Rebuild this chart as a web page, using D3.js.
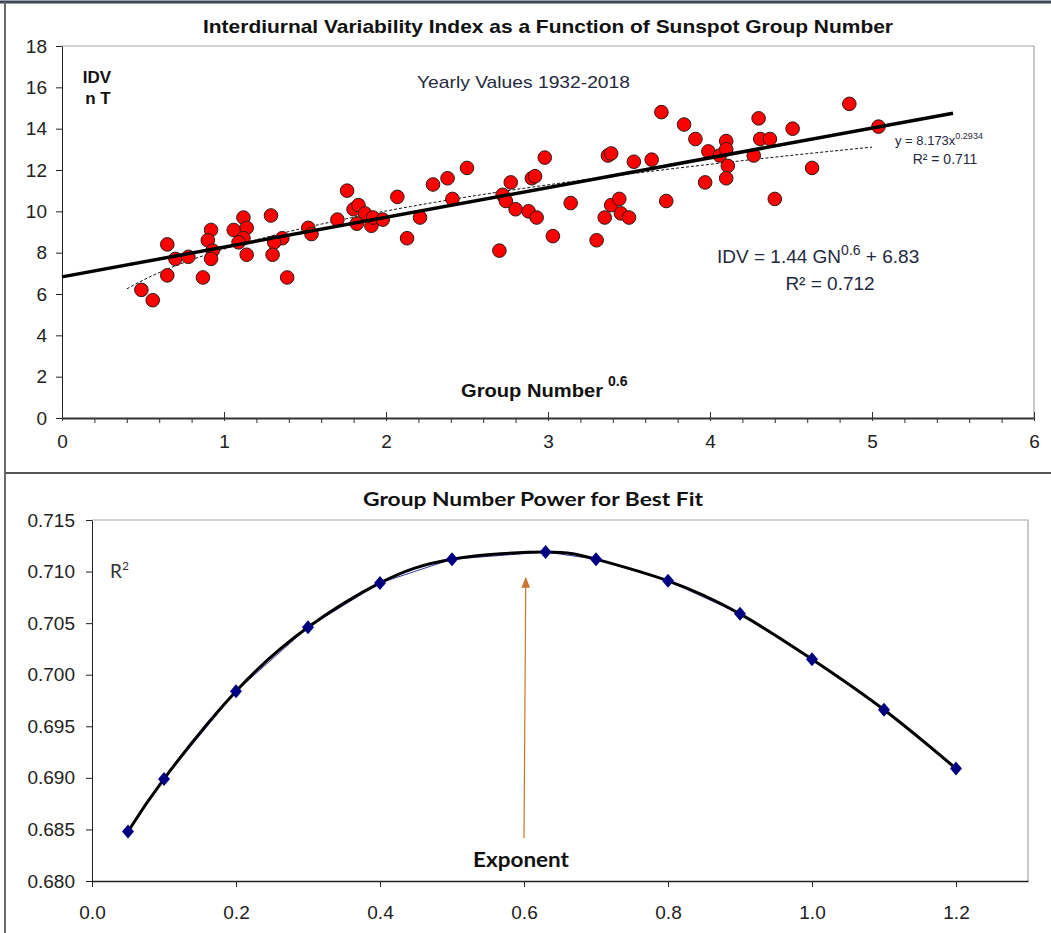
<!DOCTYPE html>
<html>
<head>
<meta charset="utf-8">
<script src="https://cdn.jsdelivr.net/npm/d3@7"></script>
<style>
body { margin: 0; background: #fff; }
svg { display: block; }
.sans { font-family: "Liberation Sans", Arial, sans-serif; }
.cal { font-family: Lato, "Open Sans", sans-serif; }
</style>
</head>
<body>
<svg id="grafico" width="1051" height="933"></svg>
<script>
// datos del grafico de arriba: GN^0.6 (x) contra IDV en nT (y)
var gnPot = [0.49, 0.56, 0.65, 0.65, 0.70, 0.78, 0.87, 0.92, 0.90, 0.93, 0.92, 1.12, 1.06, 1.14, 1.12, 1.09, 1.14,
    1.29, 1.36, 1.31, 1.30, 1.39, 1.52, 1.54, 1.76, 1.70, 1.80, 1.83, 1.87, 1.82, 1.91, 1.92, 1.98, 2.07, 2.21, 2.13,
    2.29, 2.38, 2.50, 2.41, 2.72, 2.74, 2.70, 2.77, 2.80, 2.88, 2.93, 2.90, 2.92, 2.98, 3.14, 3.03, 3.30, 3.37, 3.39,
    3.35, 3.39, 3.44, 3.45, 3.50, 3.53, 3.64, 3.73, 3.70, 3.84, 3.91, 3.99, 4.06, 4.10, 4.10, 4.11, 4.10, 3.97, 4.30,
    4.31, 4.37, 4.27, 4.40, 4.51, 4.63, 4.86, 5.04];
var idv = [6.2, 5.7, 8.4, 6.9, 7.7, 7.8, 6.8, 9.1, 8.6, 8.1, 7.7, 9.7, 9.1, 9.2, 8.7, 8.5, 7.9,
    9.8, 8.7, 8.5, 7.9, 6.8, 9.2, 8.9, 11.0, 9.6, 10.1, 10.3, 9.9, 9.4, 9.3, 9.7, 9.6, 10.7, 9.7, 8.7,
    11.3, 11.6, 12.1, 10.6, 10.8, 10.5, 8.1, 11.4, 10.1, 10.0, 9.7, 11.6, 11.7, 12.6, 10.4, 8.8, 8.6, 12.7, 12.8,
    9.7, 10.3, 10.6, 9.9, 9.7, 12.4, 12.5, 10.5, 14.8, 14.2, 13.5, 12.9, 12.7, 13.4, 13.0, 12.2, 11.6, 11.4, 14.5,
    13.5, 13.5, 12.7, 10.6, 14.0, 12.1, 15.2, 14.1];

// ajustes que aparecen escritos en el grafico
var linPend = 1.44, linCorte = 6.83;      // IDV = 1.44 GN^0.6 + 6.83
var potCoef = 8.173, potExp = 0.2934;     // y = 8.173x^0.2934

var ticksX1 = [0, 1, 2, 3, 4, 5, 6];
var ticksY1 = [0, 2, 4, 6, 8, 10, 12, 14, 16, 18];

// datos del grafico de abajo: exponente contra R2
var exponente = [0.05, 0.1, 0.2, 0.3, 0.4, 0.5, 0.63, 0.7, 0.8, 0.9, 1.0, 1.1, 1.2];
var r2 = [0.6848, 0.6899, 0.6984, 0.7046, 0.7089, 0.7112, 0.7119, 0.7112, 0.7091, 0.7059, 0.7015, 0.6966, 0.6909];
var ticksX2 = [0, 0.2, 0.4, 0.6, 0.8, 1.0, 1.2];
var ticksY2 = [0.680, 0.685, 0.690, 0.695, 0.700, 0.705, 0.710, 0.715];

var svg = d3.select("#grafico");

// marco general
svg.append("line").attr("x1", 0).attr("x2", 1051).attr("y1", 2).attr("y2", 2)
    .attr("stroke", "#3b4756").attr("stroke-width", 3);
svg.append("line").attr("x1", 5).attr("x2", 5).attr("y1", 2).attr("y2", 933)
    .attr("stroke", "#6b6b6b").attr("stroke-width", 2);
svg.append("line").attr("x1", 5).attr("x2", 1051).attr("y1", 473).attr("y2", 473)
    .attr("stroke", "#555").attr("stroke-width", 2);

// ---------------- grafico de arriba ----------------
var x1 = d3.scaleLinear().domain([0, 6]).range([62, 1034]);
var y1 = d3.scaleLinear().domain([0, 18]).range([418, 46]);

// borde del area de trazado
svg.append("path")
    .attr("d", "M" + x1(0) + "," + y1(18) + "H" + x1(6) + "V" + y1(0))
    .attr("fill", "none").attr("stroke", "#a6a6a6").attr("stroke-width", 1.2);

// eje Y
var ejeY1 = svg.append("g").attr("class", "sans")
    .attr("transform", "translate(" + x1(0) + ",0)")
    .call(d3.axisLeft(y1).tickValues(ticksY1).tickSize(6).tickSizeOuter(0).tickPadding(9));
ejeY1.select(".domain").attr("stroke", "#222");
ejeY1.selectAll("line").attr("stroke", "#222");
ejeY1.selectAll("text").attr("font-size", 19).attr("fill", "#222");

// eje X, marcas menores cada 0.2
var menores1 = d3.range(0, 30).map(function (i) { return i * 0.2; }).filter(function (v) { return Math.abs(v - Math.round(v)) > 0.01; });
svg.append("g")
    .attr("transform", "translate(0," + y1(0) + ")")
    .call(d3.axisBottom(x1).tickValues(menores1).tickSize(5).tickSizeOuter(0).tickFormat(""))
    .call(function (g) { g.select(".domain").remove(); g.selectAll("line").attr("stroke", "#333"); });

var ejeX1 = svg.append("g").attr("class", "sans")
    .attr("transform", "translate(0," + y1(0) + ")")
    .call(d3.axisBottom(x1).tickValues(ticksX1).tickSize(3).tickSizeOuter(0).tickFormat(d3.format("d")));
ejeX1.select(".domain").attr("stroke", "#333").attr("stroke-width", 2);
ejeX1.selectAll(".tick line").attr("y1", -6).attr("stroke", "#333");
ejeX1.selectAll("text").attr("font-size", 19).attr("fill", "#222").attr("y", 17);

// linea de ajuste potencial (punteada)
var xsPot = d3.range(0.4, 5.031, 0.05);
svg.append("path")
    .attr("d", d3.line().x(function (d) { return x1(d); }).y(function (d) { return y1(potCoef * Math.pow(d, potExp)); })(xsPot))
    .attr("fill", "none").attr("stroke", "#111").attr("stroke-width", 1).attr("stroke-dasharray", "3,2");

// puntos rojos
svg.selectAll(".punto")
    .data(gnPot.map(function (v, i) { return { x: v, y: idv[i] }; }))
    .enter().append("circle")
    .attr("class", "punto")
    .attr("cx", function (d) { return x1(d.x); })
    .attr("cy", function (d) { return y1(d.y); })
    .attr("r", 6.8)
    .attr("fill", "#ff0000")
    .attr("stroke", "#2a1a1a").attr("stroke-width", 1);

// recta de ajuste
svg.append("line")
    .attr("x1", x1(0)).attr("y1", y1(linCorte))
    .attr("x2", x1(5.5)).attr("y2", y1(linPend * 5.5 + linCorte))
    .attr("stroke", "#000").attr("stroke-width", 3.5);

// textos
svg.append("text").attr("class", "sans")
    .attr("x", 548).attr("y", 33).attr("text-anchor", "middle")
    .attr("font-size", 19).attr("font-weight", "bold").attr("fill", "#111")
    .attr("textLength", 690).attr("lengthAdjust", "spacingAndGlyphs")
    .text("Interdiurnal Variability Index as a Function of Sunspot Group Number");

svg.append("text").attr("class", "sans")
    .attr("x", 97).attr("y", 83).attr("text-anchor", "middle")
    .attr("font-size", 17).attr("font-weight", "bold").attr("fill", "#111")
    .text("IDV");
svg.append("text").attr("class", "sans")
    .attr("x", 98).attr("y", 104).attr("text-anchor", "middle")
    .attr("font-size", 17).attr("font-weight", "bold").attr("fill", "#111")
    .text("n T");

svg.append("text").attr("class", "sans")
    .attr("x", 417).attr("y", 88)
    .attr("font-size", 17).attr("fill", "#1f2940")
    .attr("textLength", 213).attr("lengthAdjust", "spacingAndGlyphs")
    .text("Yearly Values 1932-2018");

var ecPot = svg.append("text").attr("class", "sans")
    .attr("x", 895).attr("y", 145)
    .attr("font-size", 13).attr("fill", "#1f2940");
ecPot.append("tspan").text("y = 8.173x");
ecPot.append("tspan").attr("font-size", 9).attr("dy", -6).text("0.2934");
svg.append("text").attr("class", "sans")
    .attr("x", 945).attr("y", 164).attr("text-anchor", "middle")
    .attr("font-size", 14).attr("fill", "#1f2940")
    .text("R² = 0.711");

var ecLin = svg.append("text").attr("class", "sans")
    .attr("x", 717).attr("y", 263)
    .attr("font-size", 19).attr("fill", "#1f2940");
ecLin.append("tspan").text("IDV = 1.44 GN");
ecLin.append("tspan").attr("font-size", 14).attr("dy", -8).text("0.6");
ecLin.append("tspan").attr("dy", 8).text(" + 6.83");
svg.append("text").attr("class", "sans")
    .attr("x", 830).attr("y", 290).attr("text-anchor", "middle")
    .attr("font-size", 19).attr("fill", "#1f2940")
    .text("R² = 0.712");

svg.append("text").attr("class", "sans")
    .attr("x", 461).attr("y", 397)
    .attr("font-size", 19).attr("font-weight", "bold").attr("fill", "#111")
    .attr("textLength", 142).attr("lengthAdjust", "spacingAndGlyphs")
    .text("Group Number");
svg.append("text").attr("class", "sans")
    .attr("x", 608).attr("y", 386)
    .attr("font-size", 14).attr("font-weight", "bold").attr("fill", "#111")
    .text("0.6");

// ---------------- grafico de abajo ----------------
var x2 = d3.scaleLinear().domain([0, 1.3]).range([92, 1028]);
var y2 = d3.scaleLinear().domain([0.680, 0.715]).range([881, 520]);

svg.append("path")
    .attr("d", "M" + x2(0) + "," + y2(0.715) + "H" + x2(1.3) + "V" + y2(0.680))
    .attr("fill", "none").attr("stroke", "#a6a6a6").attr("stroke-width", 1.2);

var ejeY2 = svg.append("g").attr("class", "sans")
    .attr("transform", "translate(" + x2(0) + ",0)")
    .call(d3.axisLeft(y2).tickValues(ticksY2).tickSize(6).tickSizeOuter(0).tickPadding(11).tickFormat(d3.format(".3f")));
ejeY2.selectAll("line, .domain").attr("stroke", "#222");
ejeY2.selectAll("text").attr("font-size", 19).attr("fill", "#222");

var ejeX2 = svg.append("g").attr("class", "sans")
    .attr("transform", "translate(0," + y2(0.680) + ")")
    .call(d3.axisBottom(x2).tickValues(ticksX2).tickSize(6).tickSizeOuter(0).tickFormat(d3.format(".1f")));
ejeX2.selectAll("line, .domain").attr("stroke", "#222");
ejeX2.select(".domain").attr("stroke-width", 1.5);
ejeX2.selectAll("text").attr("font-size", 19).attr("fill", "#222").attr("y", 25);

var puntos2 = exponente.map(function (v, i) { return { x: v, y: r2[i] }; });

// serie (linea fina azul)
svg.append("path")
    .attr("d", d3.line().x(function (d) { return x2(d.x); }).y(function (d) { return y2(d.y); })(puntos2))
    .attr("fill", "none").attr("stroke", "#3535a0").attr("stroke-width", 1);

// curva suave negra
svg.append("path")
    .attr("d", d3.line().curve(d3.curveNatural).x(function (d) { return x2(d.x); }).y(function (d) { return y2(d.y); })(puntos2))
    .attr("fill", "none").attr("stroke", "#000").attr("stroke-width", 3);

// rombos
svg.selectAll(".rombo")
    .data(puntos2)
    .enter().append("path")
    .attr("class", "rombo")
    .attr("d", "M0,-7L6,0L0,7L-6,0Z")
    .attr("transform", function (d) { return "translate(" + x2(d.x) + "," + y2(d.y) + ")"; })
    .attr("fill", "#000080");

// flecha naranja hacia el maximo
var flechaX = [0.6, 0.6025], flechaY = [0.68417, 0.70938];
svg.append("defs").append("marker")
    .attr("id", "punta").attr("viewBox", "0 0 10 10").attr("refX", 9).attr("refY", 5)
    .attr("markerWidth", 9).attr("markerHeight", 9).attr("orient", "auto")
    .append("path").attr("d", "M0,1L10,5L0,9Z").attr("fill", "#c8762e");
svg.append("line")
    .attr("x1", x2(flechaX[0])).attr("y1", y2(flechaY[0]))
    .attr("x2", x2(flechaX[1])).attr("y2", y2(flechaY[1]))
    .attr("stroke", "#c8762e").attr("stroke-width", 1.2)
    .attr("marker-end", "url(#punta)");

svg.append("text").attr("class", "cal")
    .attr("x", 533).attr("y", 506).attr("text-anchor", "middle")
    .attr("font-size", 19).attr("font-weight", "bold").attr("fill", "#111")
    .attr("textLength", 340).attr("lengthAdjust", "spacingAndGlyphs")
    .text("Group Number Power for Best Fit");

svg.append("text").attr("class", "cal")
    .attr("x", 521).attr("y", 867).attr("text-anchor", "middle")
    .attr("font-size", 20).attr("font-weight", "bold").attr("fill", "#111")
    .attr("textLength", 96).attr("lengthAdjust", "spacingAndGlyphs")
    .text("Exponent");

var etR2 = svg.append("text").attr("class", "cal")
    .attr("x", 110).attr("y", 578)
    .attr("font-size", 19).attr("fill", "#333");
etR2.append("tspan").text("R");
etR2.append("tspan").attr("font-size", 12).attr("dy", -8).text("2");
</script>
</body>
</html>
